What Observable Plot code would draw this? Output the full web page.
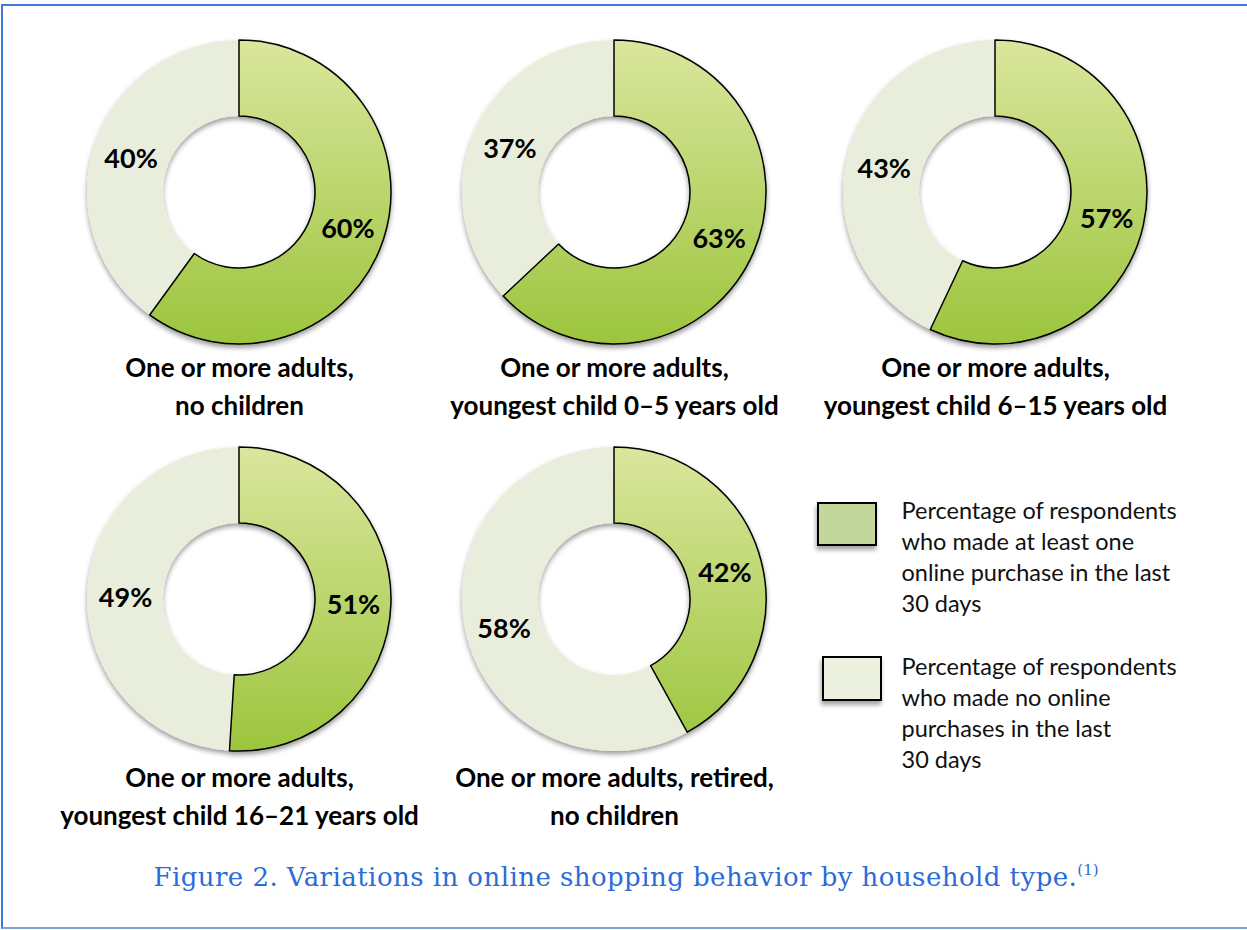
<!DOCTYPE html>
<html>
<head>
<meta charset="utf-8">
<script src="https://cdn.jsdelivr.net/npm/d3@7"></script>
<script src="https://cdn.jsdelivr.net/npm/@observablehq/plot@0.6"></script>
<style>
html, body { margin: 0; padding: 0; background: #fff; overflow: hidden; }
#frame { position: absolute; left: 1px; top: 4px; width: 1270px; height: 925px; box-sizing: border-box;
  border-top: 2px solid #3f7ad9; border-left: 2px solid #3f7ad9; border-bottom: 2px solid #7ba4e2; }
#chart { position: absolute; left: 0; top: 0; width: 1247px; }
#caption { text-align: center; font-family: "DejaVu Serif", serif;
  font-size: 26px; color: #2a6cd8; height: 40px; line-height: 40px; padding-top: 12px; width: 1252px; letter-spacing: 0.45px; }
#caption sup { font-size: 15px; vertical-align: 11px; line-height: 0; letter-spacing: 0; }
</style>
</head>
<body>
<div id="frame"></div>
<div id="chart"></div>
<script>
// ---- data ----
const categories = [
  "One or more adults,\nno children",
  "One or more adults,\nyoungest child 0–5 years old",
  "One or more adults,\nyoungest child 6–15 years old",
  "One or more adults,\nyoungest child 16–21 years old",
  "One or more adults, retired,\nno children"
];
const purchased = [60, 63, 57, 51, 42];
const noPurchase = [40, 37, 43, 49, 58];
const legendLabels = [
  "Percentage of respondents\nwho made at least one\nonline purchase in the last\n30 days",
  "Percentage of respondents\nwho made no online\npurchases in the last\n30 days"
];
const captionText = "Figure 2. Variations in online shopping behavior by household type.";
const captionNote = "(1)";

// ---- layout ----
const W = 1247, H = 845;
const colX = [239, 614, 995];
const rowY = [192, 599];
const R_OUT = 152, R_IN = 76;
const GREEN_TOP = "#dae69d", GREEN_BOT = "#9cc53d", LIGHT = "#e9eedc";
const LEGEND_FILLS = ["#c3d69b", "#ebf1de"];
const legendBoxes = [
  {x1: 818, x2: 876, y1: 503, y2: 545, tx: 901, ty: 496},
  {x1: 823, x2: 881, y1: 657, y2: 700, tx: 901, ty: 652}
];

const donutData = categories.map((c, i) => ({
  label: c,
  yes: purchased[i],
  no: noPurchase[i],
  cx: colX[i % 3],
  cy: rowY[Math.floor(i / 3)]
}));

const arcGen = d3.arc().innerRadius(R_IN).outerRadius(R_OUT);
const pieGen = d3.pie().sort(null).value(v => v);

// percentage labels at slice centroids
const pctLabels = [];
donutData.forEach(d => {
  const slices = pieGen([d.yes, d.no]);
  slices.forEach(s => {
    const [ox, oy] = arcGen.centroid(s);
    pctLabels.push({x: d.cx + ox, y: d.cy + oy + 2, text: s.data + "%"});
  });
});

const catLabels = donutData.map((d, i) => ({x: d.cx, y: d.cy + (i < 3 ? 158 : 161), text: d.label}));
const legendData = legendBoxes.map((b, i) => ({...b, fill: LEGEND_FILLS[i], text: legendLabels[i]}));

function donutMark(index, scales) {
  const {x, y} = scales;
  const g = d3.create("svg:g");
  const defs = g.append("defs");
  const f = defs.append("filter").attr("id", "ds").attr("x", "-20%").attr("y", "-20%").attr("width", "140%").attr("height", "140%");
  f.append("feDropShadow").attr("dx", 0).attr("dy", 3).attr("stdDeviation", 2.5)
    .attr("flood-color", "#000").attr("flood-opacity", 0.4);
  const f2 = defs.append("filter").attr("id", "ls").attr("x", "-30%").attr("y", "-30%").attr("width", "160%").attr("height", "160%");
  f2.append("feDropShadow").attr("dx", -1).attr("dy", 4).attr("stdDeviation", 2)
    .attr("flood-color", "#000").attr("flood-opacity", 0.35);
  donutData.forEach((d, i) => {
    const cx = x(d.cx), cy = y(d.cy);
    const R = x(d.cx + R_OUT) - cx, r0 = x(d.cx + R_IN) - cx;
    const arc = d3.arc().innerRadius(r0).outerRadius(R);
    const gr = defs.append("linearGradient").attr("id", "gr" + i)
      .attr("gradientUnits", "userSpaceOnUse").attr("x1", 0).attr("x2", 0).attr("y1", -R).attr("y2", R);
    gr.append("stop").attr("offset", "0%").attr("stop-color", GREEN_TOP);
    gr.append("stop").attr("offset", "100%").attr("stop-color", GREEN_BOT);
    const slices = pieGen([d.yes, d.no]);
    const gg = g.append("g").attr("transform", `translate(${cx},${cy})`).attr("filter", "url(#ds)");
    gg.append("path").attr("d", arc(slices[1])).attr("fill", LIGHT);
    gg.append("path").attr("d", arc(slices[0])).attr("fill", `url(#gr${i})`)
      .attr("stroke", "#000").attr("stroke-width", 1.5).attr("stroke-linejoin", "round");
  });
  return g.node();
}

const plot = Plot.plot({
  width: W,
  height: H,
  margin: 0,
  x: {domain: [0, W], range: [0, W], axis: null},
  y: {domain: [0, H], range: [0, H], axis: null},
  style: {background: "transparent", fontFamily: "Lato, sans-serif", overflow: "visible"},
  marks: [
    donutMark,
    Plot.rect(legendData, {x1: "x1", x2: "x2", y1: "y1", y2: "y2", fill: "fill", stroke: "#000", strokeWidth: 2}),
    Plot.text(legendData, {x: "tx", y: "ty", text: "text", textAnchor: "start", lineAnchor: "top",
      fontSize: 23.5, lineHeight: 1.33, fill: "#111"}),
    Plot.text(pctLabels, {x: "x", y: "y", text: "text", fontSize: 27, fontWeight: "bold", fill: "#000"}),
    Plot.text(catLabels, {x: "x", y: "y", text: "text", lineAnchor: "top", fontSize: 26,
      fontWeight: "bold", lineHeight: 1.45, fill: "#000"})
  ]
});

d3.select(plot).selectAll("g[aria-label=rect] rect").attr("filter", "url(#ls)");

const chart = document.getElementById("chart");
chart.appendChild(plot);
const cap = document.createElement("div");
cap.id = "caption";
cap.textContent = captionText;
const sup = document.createElement("sup");
sup.textContent = captionNote;
cap.appendChild(sup);
chart.appendChild(cap);
</script>
</body>
</html>
